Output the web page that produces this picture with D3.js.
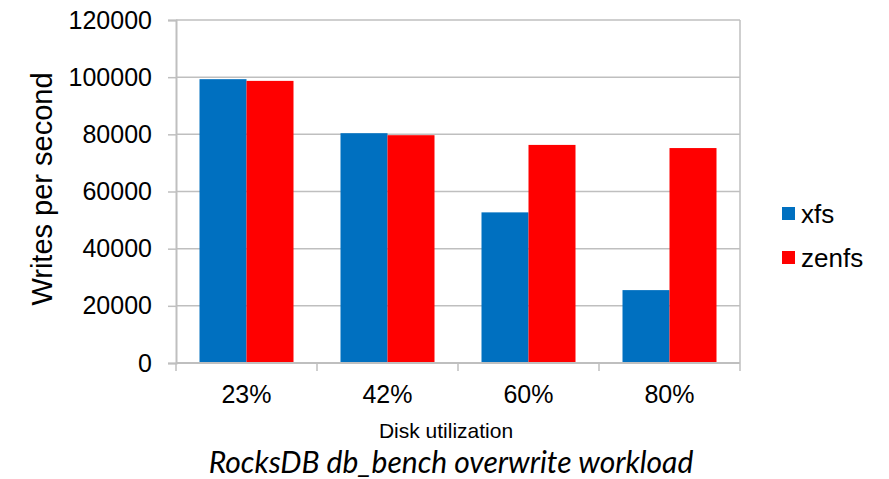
<!DOCTYPE html>
<html>
<head>
<meta charset="utf-8">
<script src="https://cdn.jsdelivr.net/npm/d3@7"></script>
<style>
  html, body { margin: 0; padding: 0; background: #fff; }
  svg { display: block; }
</style>
</head>
<body>
<svg id="chart" width="889" height="479"></svg>
<script>
// Disk utilization levels and throughput for each file system
const categories = ["23%", "42%", "60%", "80%"];
const seriesNames = ["xfs", "zenfs"];
const xfsValues = [99300, 80400, 52700, 25500];
const zenfsValues = [98700, 79700, 76300, 75200];
const yTicks = [0, 20000, 40000, 60000, 80000, 100000, 120000];
const colors = { xfs: "#0070C0", zenfs: "#FF0000" };

const rows = categories.map((c, i) => ({ cat: c, xfs: xfsValues[i], zenfs: zenfsValues[i] }));

const svg = d3.select("#chart");
const margin = { left: 176, right: 149, top: 20, bottom: 116 };
const W = 889, H = 479;
const plotW = W - margin.left - margin.right;
const plotH = H - margin.top - margin.bottom;

const x = d3.scaleBand().domain(categories).range([0, plotW]).paddingInner(0).paddingOuter(0);
const xInner = d3.scaleBand().domain(seriesNames).range([x.bandwidth() / 6, x.bandwidth() * 5 / 6]).padding(0);
const y = d3.scaleLinear().domain([0, 120000]).range([plotH, 0]);

const g = svg.append("g").attr("transform", `translate(${margin.left},${margin.top})`);

const gridColor = "#BFBFBF";
const font = "Liberation Sans";

// horizontal gridlines
g.append("g").selectAll("line").data(yTicks.filter(t => t > 0)).join("line")
  .attr("x1", 0).attr("x2", plotW)
  .attr("y1", d => y(d)).attr("y2", d => y(d))
  .attr("stroke", gridColor).attr("stroke-width", 1.5);

// right frame of the plot area
g.append("line")
  .attr("x1", plotW).attr("x2", plotW).attr("y1", 0).attr("y2", plotH)
  .attr("stroke", gridColor).attr("stroke-width", 1.5);

// bars
const groups = g.append("g").selectAll("g").data(rows).join("g")
  .attr("transform", d => `translate(${x(d.cat)},0)`);
groups.selectAll("rect").data(d => seriesNames.map(s => ({ s, v: d[s] }))).join("rect")
  .attr("x", d => xInner(d.s))
  .attr("width", xInner.bandwidth())
  .attr("y", d => y(d.v))
  .attr("height", d => plotH - y(d.v))
  .attr("fill", d => colors[d.s]);

// y axis
const yAxis = g.append("g").call(
  d3.axisLeft(y).tickValues(yTicks).tickFormat(d3.format("d")).tickSize(8).tickPadding(16)
);
yAxis.select(".domain").attr("stroke", gridColor).attr("stroke-width", 2);
yAxis.selectAll(".tick line").attr("stroke", gridColor).attr("stroke-width", 1.5);
yAxis.selectAll(".tick text").attr("font-family", font).attr("font-size", 25).attr("fill", "#000");

// x axis with ticks on category boundaries
const xAxisG = g.append("g").attr("transform", `translate(0,${plotH})`);
xAxisG.append("line").attr("x1", 0).attr("x2", plotW).attr("y1", 0).attr("y2", 0)
  .attr("stroke", gridColor).attr("stroke-width", 2);
const boundaries = categories.map(c => x(c)).concat([plotW]);
xAxisG.selectAll("line.b").data(boundaries).join("line").attr("class", "b")
  .attr("x1", d => d).attr("x2", d => d).attr("y1", 0).attr("y2", 8)
  .attr("stroke", gridColor).attr("stroke-width", 1.5);
xAxisG.selectAll("text").data(categories).join("text")
  .attr("x", d => x(d) + x.bandwidth() / 2)
  .attr("y", 40)
  .attr("text-anchor", "middle")
  .attr("font-family", font).attr("font-size", 25).attr("fill", "#000")
  .text(d => d);

// axis titles
svg.append("text")
  .attr("transform", "translate(52,189) rotate(-90)")
  .attr("text-anchor", "middle")
  .attr("font-family", font).attr("font-size", 29).attr("fill", "#000")
  .text("Writes per second");

svg.append("text")
  .attr("x", 446).attr("y", 438)
  .attr("text-anchor", "middle")
  .attr("font-family", font).attr("font-size", 21).attr("fill", "#000")
  .text("Disk utilization");

svg.append("text")
  .attr("x", 451).attr("y", 473)
  .attr("text-anchor", "middle")
  .attr("font-family", "Lato").attr("font-style", "italic")
  .attr("font-size", 30).attr("fill", "#000")
  .text("RocksDB db_bench overwrite workload");

// legend
const legend = svg.append("g").attr("transform", "translate(782,207)");
const li = legend.selectAll("g").data(seriesNames).join("g")
  .attr("transform", (d, i) => `translate(0,${i * 44})`);
li.append("rect").attr("width", 13).attr("height", 13).attr("fill", d => colors[d]);
li.append("text").attr("x", 19).attr("y", 16)
  .attr("font-family", font).attr("font-size", 26).attr("fill", "#000")
  .text(d => d);
</script>
</body>
</html>
